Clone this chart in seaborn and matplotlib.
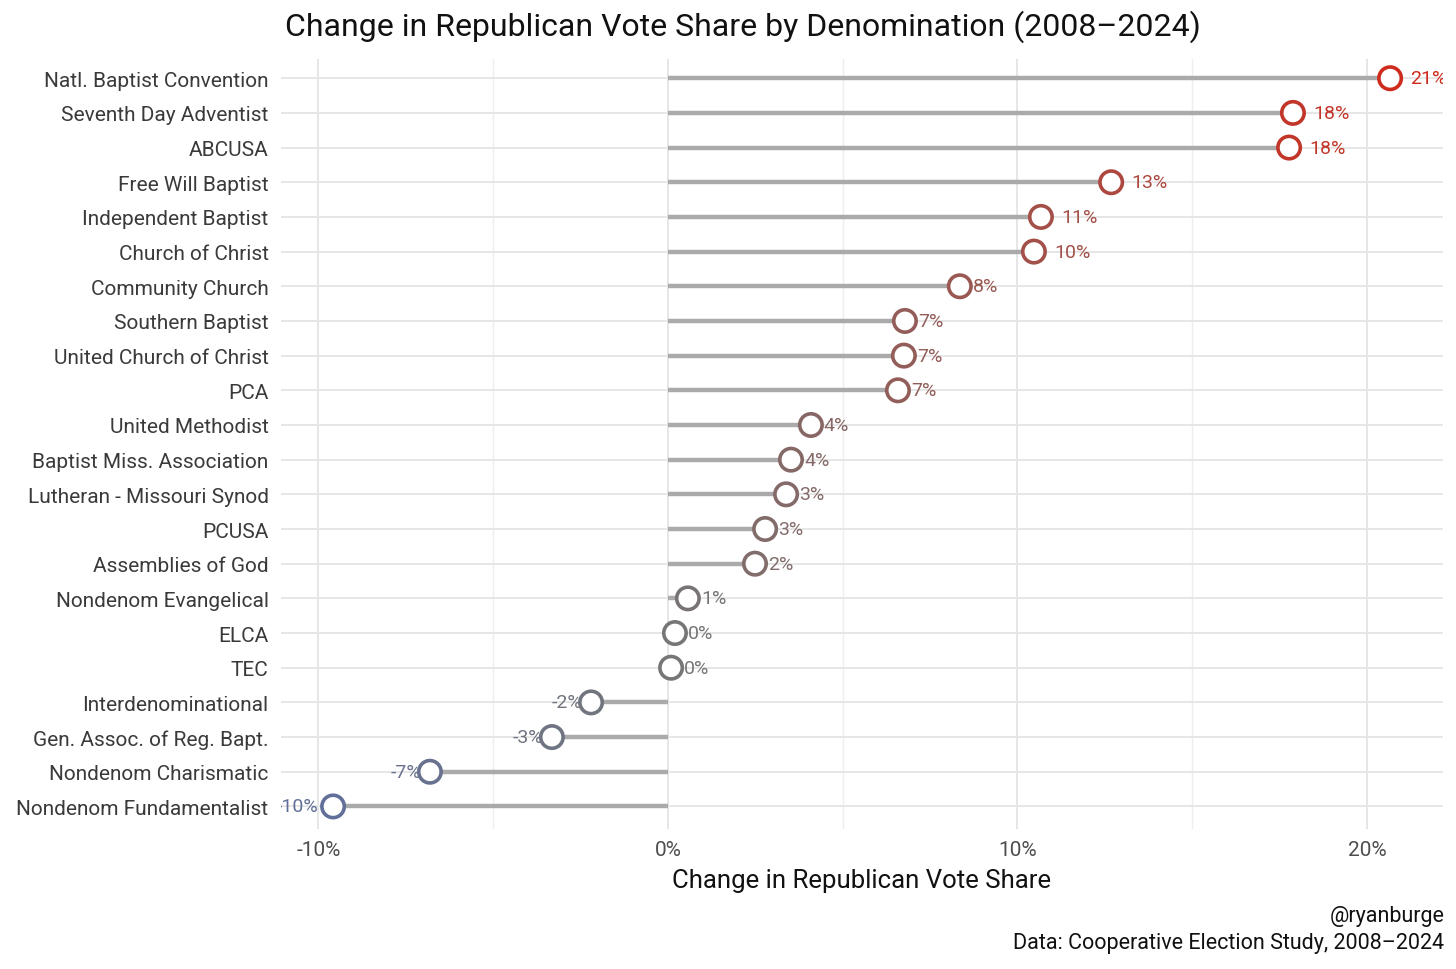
import numpy as np
import pandas as pd
import seaborn as sns
import matplotlib
matplotlib.use("Agg")
from matplotlib import pyplot as plt
from matplotlib import font_manager as fm
from matplotlib.colors import LinearSegmentedColormap, TwoSlopeNorm

# data (change in GOP vote share, percentage points, 2008 -> 2024)
denoms = ["Natl. Baptist Convention", "Seventh Day Adventist", "ABCUSA",
          "Free Will Baptist", "Independent Baptist", "Church of Christ",
          "Community Church", "Southern Baptist", "United Church of Christ",
          "PCA", "United Methodist", "Baptist Miss. Association",
          "Lutheran - Missouri Synod", "PCUSA", "Assemblies of God",
          "Nondenom Evangelical", "ELCA", "TEC", "Interdenominational",
          "Gen. Assoc. of Reg. Bapt.", "Nondenom Charismatic",
          "Nondenom Fundamentalist"]
change = [20.66, 17.88, 17.77, 12.68, 10.67, 10.47, 8.35, 6.78, 6.75, 6.58,
          4.09, 3.52, 3.38, 2.78, 2.49, 0.57, 0.20, 0.09, -2.20, -3.32,
          -6.81, -9.58]
xticks = [-10, 0, 10, 20]
xticklabels = ["-10%", "0%", "10%", "20%"]

df = pd.DataFrame({"denom": denoms, "change": change})
df["pos"] = np.arange(len(df))
df["label"] = [f"{round(v):d}%" for v in df["change"]]

sns.set_theme(style="whitegrid")

avail = {f.name for f in fm.fontManager.ttflist}
fam = [f for f in ["Liberation Sans Narrow", "Roboto", "DejaVu Sans"] if f in avail]
plt.rcParams["font.family"] = fam + ["DejaVu Sans"]

# blue -> grey -> red, centred on zero
cmap = LinearSegmentedColormap.from_list("gop", ["#61709a", "#767676", "#cf2a1c"])
norm = TwoSlopeNorm(vmin=-10, vcenter=0, vmax=21)
cols = [cmap(norm(v)) for v in df["change"]]

fig = plt.figure(figsize=(14.56, 9.7), dpi=100)
ax = fig.add_axes([0.193, 0.144, 0.798, 0.794])

ax.hlines(df["pos"], 0, df["change"], color="#aaaaaa", lw=3.2, zorder=2)
sns.scatterplot(data=df, x="change", y="pos", ax=ax, s=260, marker="o",
                facecolor="white", edgecolor=cols, linewidth=2.6,
                zorder=3, legend=False)

for _, r in df.iterrows():
    c = cols[int(r["pos"])]
    if r["change"] >= 0:
        off = 20 if r["change"] >= 9.5 else 13
        ha = "left"
    else:
        off = -15 if r["change"] <= -9.5 else -9
        ha = "right"
    t = ax.annotate(r["label"], (r["change"], r["pos"]), xytext=(off, 0),
                    textcoords="offset pixels", ha=ha, va="center",
                    color=c, fontsize=14, zorder=4)
    t.set_clip_path(ax.patch)
    t.set_clip_on(True)

ax.set_xlim(-11.07, 22.17)
ax.set_ylim(len(df) - 1 + 0.66, -0.55)
ax.set_xticks(xticks)
ax.set_xticklabels(xticklabels)
ax.set_xticks([-5, 5, 15], minor=True)
ax.set_yticks(df["pos"])
ax.set_yticklabels(df["denom"])
ax.grid(True, which="major", color="#e6e6e6", lw=1.4)
ax.grid(True, which="minor", axis="x", color="#eeeeee", lw=1.0)
ax.tick_params(axis="y", labelsize=15, labelcolor="#3a3a3a", pad=9, length=0)
ax.tick_params(axis="x", labelsize=15, labelcolor="#4d4d4d", pad=8, length=0)
for s in ax.spines.values():
    s.set_visible(False)
ax.set_ylabel("")
ax.set_xlabel("Change in Republican Vote Share", fontsize=18.5, color="#111111",
              labelpad=6)

fig.text(0.51, 0.972, "Change in Republican Vote Share by Denomination (2008\u20132024)",
         ha="center", va="center", fontsize=23, color="#111111")
fig.text(0.992, 0.055, "@ryanburge", ha="right", va="center", fontsize=15.5,
         color="#111111")
fig.text(0.992, 0.027, "Data: Cooperative Election Study, 2008\u20132024",
         ha="right", va="center", fontsize=15.5, color="#111111")

fig.savefig("out.png", dpi=100, facecolor="white")
